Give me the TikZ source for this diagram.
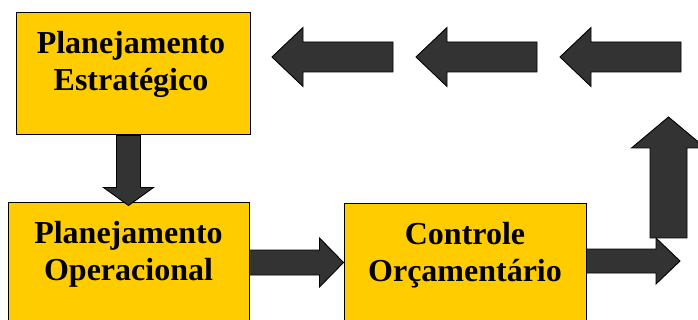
\documentclass[tikz,border=0pt]{standalone}
\usepackage{fontspec}
\setmainfont{Liberation Serif}
\usetikzlibrary{calc}
\definecolor{boxyellow}{HTML}{FFCC00}
\definecolor{arrowgray}{HTML}{333333}
\tikzset{
  box/.style={draw=black, line width=1pt, fill=boxyellow, rectangle, inner sep=0pt},
  boxtext/.style={font=\bfseries\fontsize{32}{37}\selectfont, align=center, inner sep=0pt, anchor=base},
  blockarrow/.style={draw=black, line width=0.9pt, fill=arrowgray, line join=miter},
}
% block arrow: shaft half-width, head half-width, head length, start, tip
\newcommand\blockarrow[5]{%
  \path ($(#5)!#3!(#4)$) coordinate (hb);
  \draw[blockarrow] ($(#4)!#1!90:(#5)$) -- ($(hb)!#1!90:(#5)$) -- ($(hb)!#2!90:(#5)$)
    -- (#5) -- ($(hb)!#2!-90:(#5)$) -- ($(hb)!#1!-90:(#5)$) -- ($(#4)!#1!-90:(#5)$) -- cycle;}
\begin{document}
\begin{tikzpicture}[x=1pt, y=-1pt]
  \useasboundingbox (0,0) rectangle (698,320);
  \clip (0,0) rectangle (698,320);

  % process boxes
  \node[box, minimum width=234pt, minimum height=122pt] (b1) at (133,74) {};
  \node[box, minimum width=241pt, minimum height=132pt] (b2) at (128.5,269) {};
  \node[box, minimum width=242pt, minimum height=131pt] (b3) at (465,269.5) {};

  % box labels (base anchor sits on the last line)
  \node[boxtext] (t1) at ([xshift=-2pt, yshift=-78pt]b1.north) {Planejamento\\Estratégico};
  \node[boxtext] (t2) at ([yshift=-78pt]b2.north) {Planejamento\\Operacional};
  \node[boxtext] (t3) at ([yshift=-78pt]b3.north) {Controle\\Orçamentário};

  % free ends of the feedback loop
  \coordinate (r2) at (680,261);
  \coordinate (u0) at (668.5,238);
  \coordinate (u1) at (668.5,117);
  \coordinate (a3s) at (681,57);
  \coordinate (a3e) at (560,57);
  \coordinate (a2s) at (537,57);
  \coordinate (a2e) at (416,57);
  \coordinate (a1s) at (393,57);
  \coordinate (a1e) at (272,57);

  % connectors
  \coordinate (d0) at (b2.north |- b1.south);
  \coordinate (d1) at ([yshift=-3pt]b2.north);
  \blockarrow{12pt}{25pt}{18pt}{d0}{d1}

  \coordinate (h0) at ([yshift=-60pt]b2.north east);
  \coordinate (h1) at (h0 -| b3.west);
  \blockarrow{12.5pt}{24.5pt}{24pt}{h0}{h1}

  \coordinate (k0) at (b3.east |- r2);
  \blockarrow{12pt}{23pt}{24pt}{k0}{r2}

  \blockarrow{18.5pt}{37pt}{31pt}{u0}{u1}

  \blockarrow{15pt}{29.5pt}{31pt}{a3s}{a3e}
  \blockarrow{15pt}{29.5pt}{31pt}{a2s}{a2e}
  \blockarrow{15pt}{29.5pt}{31pt}{a1s}{a1e}
\end{tikzpicture}
\end{document}
